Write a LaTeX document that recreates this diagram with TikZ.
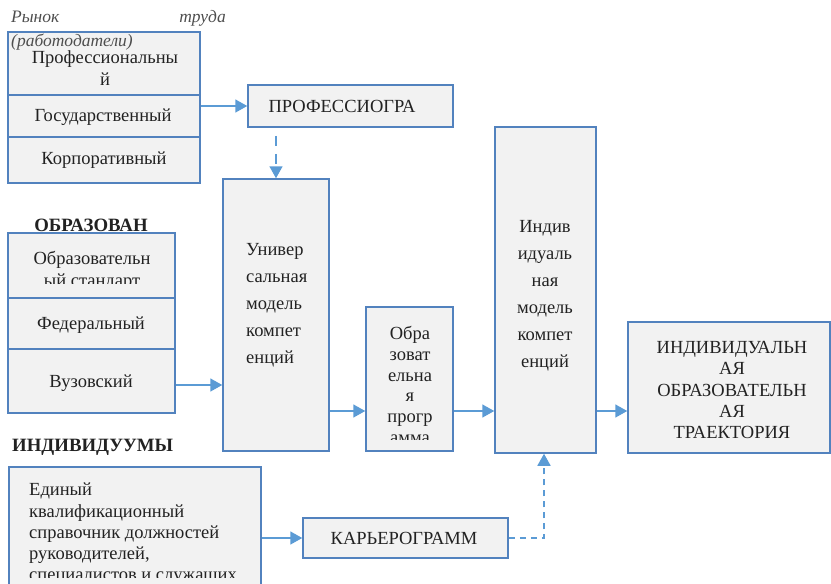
\documentclass[tikz,border=0pt]{standalone}
\usepackage{fontspec}
\setmainfont{Liberation Serif}
\usetikzlibrary{arrows.meta}

\definecolor{edgeblue}{HTML}{5282BE}
\definecolor{arrowblue}{HTML}{5B9BD5}
\definecolor{cellgrey}{HTML}{F2F2F2}
\definecolor{ink}{HTML}{222222}

\tikzset{
  box/.style={draw=edgeblue, fill=cellgrey, line width=1.5pt, inner sep=0pt},
  txt/.style={font=\fontsize{18.5}{22}\selectfont, text=ink, align=center, inner sep=0pt},
  widetxt/.style={font=\fontsize{18.5}{27}\selectfont, text=ink, inner sep=0pt},
  narrowtxt/.style={font=\fontsize{18.5}{20.8}\selectfont, text=ink, align=center, inner sep=0pt},
  headtxt/.style={font=\fontsize{18.8}{22}\selectfont\bfseries, text=ink, inner sep=0pt},
  notetxt/.style={font=\fontsize{17.5}{20}\selectfont\itshape, text=ink!80, inner sep=0pt},
  arr/.style={draw=arrowblue, line width=1.6pt, -{Triangle[length=12pt,width=13pt]}},
  dasharr/.style={arr, dash pattern=on 10pt off 8pt, dash phase=10pt},
}

\begin{document}
\begin{tikzpicture}[x=1pt, y=-1pt]
\useasboundingbox (0,0) rectangle (831,584);

% labour market group
\node[notetxt, anchor=base west] (mkt1) at (11,22) {Рынок};
\node[notetxt, anchor=base east] (mkt2) at (226,22) {труда};
\node[box, minimum width=192pt, minimum height=63pt] (s1a) at (104,63.5) {};
\node[box, minimum width=192pt, minimum height=42pt] (s1b) at (104,116) {};
\node[box, minimum width=192pt, minimum height=46pt] (s1c) at (104,160) {};
\node[notetxt, anchor=base west] (mkt3) at (11,46) {(работодатели)};
\node[txt] (t1a) at (105,68) {Профессиональны\\й};
\node[txt] (t1b) at (103,117) {Государственный};
\node[txt] (t1c) at (104,160) {Корпоративный};

% education group
\node[headtxt] (h2) at (91,225) {ОБРАЗОВАН};
\node[box, minimum width=167pt, minimum height=65pt] (s2a) at (91.5,265.5) {};
\node[box, minimum width=167pt, minimum height=51pt] (s2b) at (91.5,323.5) {};
\node[box, minimum width=167pt, minimum height=64pt] (s2c) at (91.5,381) {};
\begin{scope}
  \clip (8,233) rectangle (175,283);
  \node[txt] (t2a) at (92,271) {Образовательн\\ый стандарт};
\end{scope}
\node[txt] (t2b) at (91,325) {Федеральный};
\node[txt] (t2c) at (91,383) {Вузовский};

% individuals group
\node[headtxt, anchor=west] (h3) at (12,447) {ИНДИВИДУУМЫ};
\node[box, minimum width=252pt, minimum height=133pt] (s3) at (135,533.5) {};
\begin{scope}
  \clip (9,467) rectangle (261,577);
  \node[txt, align=left, font=\fontsize{18.5}{21.3}\selectfont, anchor=west] (t3)
    at (29,534) {Единый\\квалификационный\\справочник должностей\\руководителей,\\специалистов и служащих};
\end{scope}

% central chain
\node[box, minimum width=205pt, minimum height=42pt] (prof) at (350.5,106) {};
\node[txt] at (342,106) {ПРОФЕССИОГРА};

\node[box, minimum width=106pt, minimum height=272pt] (univ) at (276,315) {};
\node[widetxt, align=left, anchor=west] (tuniv) at (246,305) {Универ\\сальная\\модель\\компет\\енций};

\node[box, minimum width=87pt, minimum height=144pt] (obr) at (409.5,379) {};
\begin{scope}
  \clip (366,307) rectangle (453,439);
  \node[narrowtxt] (tobr) at (410,385) {Обра\\зоват\\ельна\\я\\прогр\\амма};
\end{scope}

\node[box, minimum width=101pt, minimum height=326pt] (indiv) at (545.5,290) {};
\node[widetxt, align=center] (tindiv) at (545,296) {Индив\\идуаль\\ная\\модель\\компет\\енций};

\node[box, minimum width=202pt, minimum height=131pt] (traj) at (729,387.5) {};
\node[txt, font=\fontsize{18.5}{21.2}\selectfont] (ttraj) at (732,390)
  {ИНДИВИДУАЛЬН\\АЯ\\ОБРАЗОВАТЕЛЬН\\АЯ\\ТРАЕКТОРИЯ};

\node[box, minimum width=205pt, minimum height=40pt] (kar) at (405.5,538) {};
\node[txt] at (404,538) {КАРЬЕРОГРАММ};

% connectors
\coordinate (flow) at (0,411);
\draw[arr] (s1b.east |- prof.west) -- (prof.west);
\draw[dasharr] (prof.south -| univ.north) -- (univ.north);
\draw[arr] ([yshift=-4pt]s2c.east) -- ([yshift=-4pt]s2c.east -| univ.west);
\draw[arr] (univ.east |- flow) -- (obr.west |- flow);
\draw[arr] (obr.east |- flow) -- (indiv.west |- flow);
\draw[arr] (indiv.east |- flow) -- (traj.west |- flow);
\draw[arr] (s3.east |- kar.west) -- (kar.west);
\draw[arr, dash pattern=on 6pt off 5pt] (kar.east) -| ([xshift=-1.5pt]indiv.south);
\end{tikzpicture}
\end{document}
